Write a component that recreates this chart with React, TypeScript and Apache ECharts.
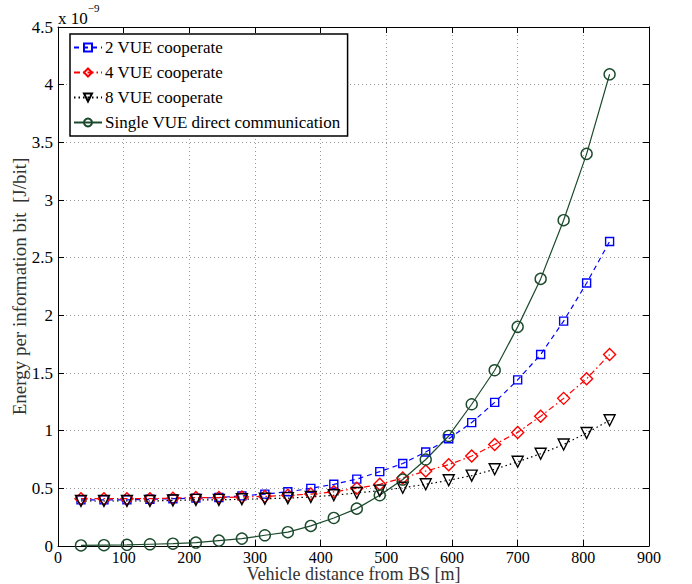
import React, { useEffect, useRef } from "react";
import * as echarts from "echarts";

const distances = [35, 70, 105, 140, 175, 210, 245, 280, 315, 350, 385, 420, 455, 490, 525, 560, 595, 630, 665, 700, 735, 770, 805, 840];
const vue2 = [0.40, 0.40, 0.40, 0.405, 0.41, 0.415, 0.42, 0.435, 0.45, 0.47, 0.50, 0.535, 0.58, 0.645, 0.715, 0.815, 0.93, 1.07, 1.245, 1.44, 1.66, 1.95, 2.28, 2.64];
const vue4 = [0.41, 0.41, 0.41, 0.41, 0.415, 0.42, 0.42, 0.425, 0.43, 0.44, 0.45, 0.47, 0.50, 0.535, 0.59, 0.65, 0.705, 0.78, 0.88, 0.985, 1.125, 1.28, 1.45, 1.66];
const vue8 = [0.39, 0.39, 0.39, 0.39, 0.395, 0.40, 0.40, 0.405, 0.41, 0.415, 0.425, 0.44, 0.46, 0.48, 0.505, 0.535, 0.57, 0.61, 0.665, 0.73, 0.80, 0.88, 0.98, 1.09];
const single = [0.005, 0.007, 0.01, 0.015, 0.02, 0.03, 0.047, 0.064, 0.093, 0.12, 0.174, 0.243, 0.324, 0.44, 0.576, 0.75, 0.954, 1.229, 1.524, 1.90, 2.316, 2.825, 3.40, 4.09];

const seriesNames = ["2 VUE cooperate", "4 VUE cooperate", "8 VUE cooperate", "Single VUE direct communication"];

const FONT = "Liberation Serif";

export default function App() {
  const ref = useRef<HTMLDivElement>(null);
  useEffect(() => {
    if (!ref.current) return;
    document.body.style.margin = "0";
    const chart = echarts.init(ref.current, null, { renderer: "svg" });
    const pair = (ys: number[]) => distances.map((x, i) => [x, ys[i]]);
    const mk = (name: string, ys: number[], color: string, symbol: string, size: number, type: any, rotate = 0) => ({
      name,
      type: "line",
      data: pair(ys),
      symbol,
      symbolSize: size,
      symbolRotate: rotate,
      showAllSymbol: true,
      lineStyle: { color, width: 1.2, type },
      itemStyle: { color: "rgba(255,255,255,0)", borderColor: color, borderWidth: 1.4 },
      emphasis: { disabled: true },
      z: 3,
    });
    const axisCommon = {
      type: "value",
      axisLine: { show: true, onZero: false, lineStyle: { color: "#000", width: 1 } },
      axisTick: { show: true, inside: true, length: 6, lineStyle: { color: "#000" } },
    };
    chart.setOption({
      animation: false,
      backgroundColor: "#fff",
      textStyle: { fontFamily: FONT },
      grid: { left: 58, right: 43, top: 27, bottom: 38, outerBoundsMode: "none", containLabel: false },
      xAxis: [
        {
          ...axisCommon,
          min: 0, max: 900, interval: 100,
          position: "bottom",
          name: "Vehicle distance from BS [m]",
          nameLocation: "middle",
          nameGap: 19,
          nameMoveOverlap: false,
          nameTextStyle: { fontFamily: FONT, fontSize: 18, color: "#333", verticalAlign: "top" },
          axisLabel: { fontFamily: FONT, fontSize: 16, color: "#000", margin: 3 },
          splitLine: { show: true, lineStyle: { color: "#999", type: [1, 3], width: 1 } },
        },
        {
          ...axisCommon,
          min: 0, max: 900, interval: 100,
          position: "top",
          axisLabel: { show: false },
          splitLine: { show: false },
        },
      ],
      yAxis: [
        {
          ...axisCommon,
          min: 0, max: 4.5, interval: 0.5,
          position: "left",
          name: "Energy per information bit  [J/bit]",
          nameLocation: "middle",
          nameGap: 29,
          nameMoveOverlap: false,
          nameTextStyle: { fontFamily: FONT, fontSize: 19, color: "#333" },
          axisLabel: { fontFamily: FONT, fontSize: 17, color: "#000", margin: 5 },
          splitLine: { show: true, lineStyle: { color: "#999", type: [1, 3], width: 1 } },
        },
        {
          ...axisCommon,
          min: 0, max: 4.5, interval: 0.5,
          position: "right",
          axisLabel: { show: false },
          splitLine: { show: false },
        },
      ],
      legend: {
        orient: "vertical",
        left: 70,
        top: 34,
        data: seriesNames,
        backgroundColor: "#fff",
        borderColor: "#000",
        borderWidth: 1.5,
        borderRadius: 0,
        padding: [5, 7, 5, 3],
        itemGap: 8,
        itemWidth: 28,
        itemHeight: 10,
        textStyle: { fontFamily: FONT, fontSize: 17, color: "#000", padding: [0, 0, 0, -2] },
      },
      graphic: [
        {
          type: "text",
          left: 58,
          top: 2,
          style: {
            text: "{a|x 10}{b|−9}",
            rich: {
              a: { fontFamily: FONT, fontSize: 17, fill: "#000", padding: [8, 0, 0, 0] },
              b: { fontFamily: FONT, fontSize: 11, fill: "#000", verticalAlign: "top" },
            },
          },
        },
      ],
      series: [
        mk(seriesNames[0], vue2, "#0000ff", "rect", 8, [5, 4]),
        mk(seriesNames[1], vue4, "#ff0000", "diamond", 12, [6, 3, 1.5, 3]),
        mk(seriesNames[2], vue8, "#000000", "triangle", 11, [1.5, 3], 180),
        mk(seriesNames[3], single, "#1c4a2c", "circle", 11, "solid"),
      ],
    });
    return () => chart.dispose();
  }, []);
  return <div ref={ref} style={{ width: 692, height: 584 }} />;
}
